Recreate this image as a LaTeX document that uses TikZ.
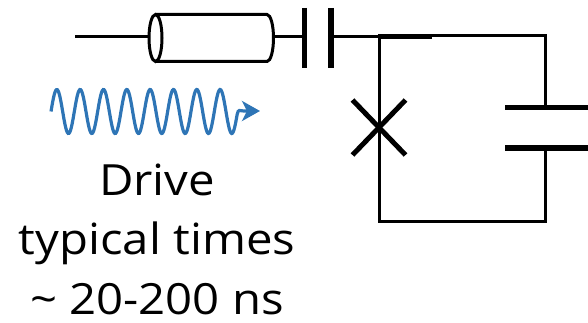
\documentclass[tikz,border=0pt]{standalone}
\usepackage{fontspec}
\setmainfont{Open Sans}
\usetikzlibrary{arrows.meta}
\definecolor{driveblue}{RGB}{46,117,182}
\newcommand\wideline[1]{\scalebox{1.1}[1]{#1}}

\begin{document}
\begin{tikzpicture}[x=1pt, y=-1pt,
    wire/.style={line width=3pt},
    plate/.style={line width=5.5pt}]
    \useasboundingbox (0,0) rectangle (588,323);

    \coordinate (IN) at (75, 37);
    \coordinate (CabL) at (149.5, 37);
    \coordinate (CabR) at (273.5, 37);
        \coordinate (P1) at (304.5, 37);
        \coordinate (P2) at (331, 37);
    \coordinate (J) at (379, 37);
        \coordinate (TL) at (379, 35.5);
        \coordinate (TR) at (545, 35.5);
        \coordinate (BL) at (379, 221.5);
        \coordinate (BR) at (545, 221.5);
        \coordinate (CT) at (545, 107.5);
        \coordinate (CB) at (545, 148);
    \coordinate (JJ) at (379, 127.5);

    % cable
    \draw [wire] (155.5, 38) ellipse [x radius=6.5, y radius=23.5];
    \draw [wire] (155.5, 14.5) -- (267, 14.5)
        arc [start angle=-90, end angle=90, x radius=6.5, y radius=23.5]
        -- (155.5, 61.5);

    \draw [wire] (IN) -- (CabL);
    \draw [wire] (CabR) -- (P1);
    \draw [wire] (P2) -- (J);

    % coupling capacitor
    \draw [plate] (304.5, 8) -- (304.5, 68);
    \draw [plate] (331, 8) -- (331, 68);

    % qubit loop
    \draw [wire] (CT) -- (TR) -- (TL) -- (BL) -- (BR) -- (CB);
    \draw [line width=5pt] (TL) ++(0, 1) -- ++(53, 0);
    \draw [plate] (505, 107.5) -- (590, 107.5);
    \draw [plate] (505, 148) -- (590, 148);
    \draw [line width=5pt] (JJ) ++(-26.5, -27.5) -- ++(53, 55);
    \draw [line width=5pt] (JJ) ++(26.5, -27.5) -- ++(-53, 55);

    % drive
    \draw [driveblue, line width=3.2pt, -{Stealth[length=18pt, width=20pt, inset=5pt]}]
        plot [domain=0:7.98, samples=240, smooth] ({51 + 23.33*\x}, {111.5 - 22*sin(360*\x)})
        .. controls (238.5, 108.5) and (239.5, 111) .. (244, 111) -- (260, 111);
    \node [align=center, anchor=base, inner sep=0pt, font=\fontsize{43}{59.5}\selectfont] (drive) at (157, 314)
        {\wideline{Drive}\\\wideline{typical times}\\\wideline{\textasciitilde{} 20-200 ns}};
\end{tikzpicture}
\end{document}
